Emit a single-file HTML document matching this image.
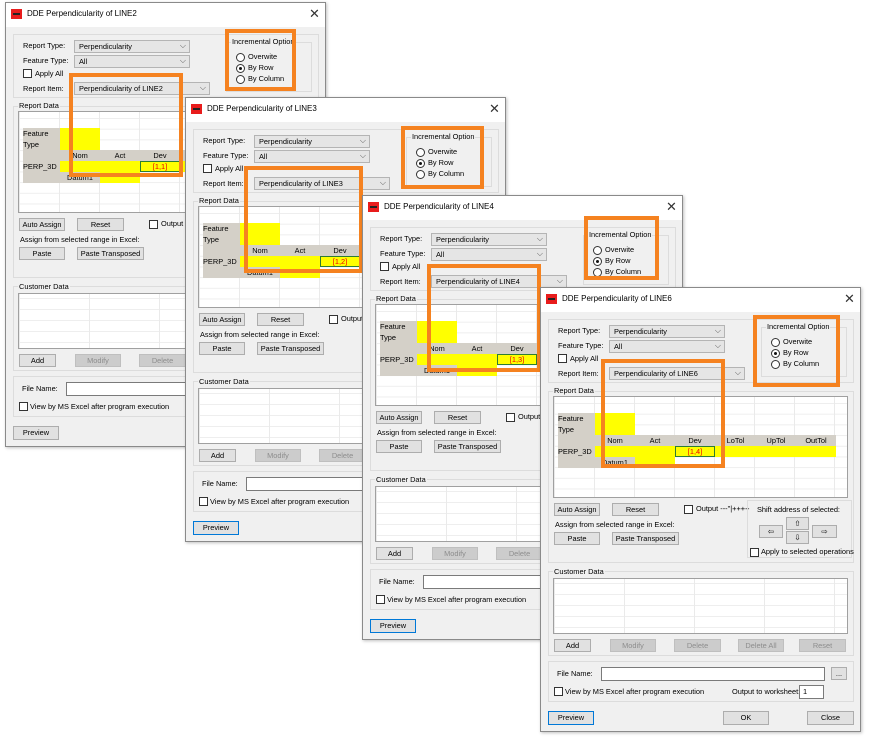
<!DOCTYPE html>
<html><head><meta charset="utf-8"><style>
body{margin:0;width:869px;height:738px;background:#fff;position:relative;overflow:hidden;font-family:"Liberation Sans",sans-serif;font-size:7.4px;color:#000}
.w{position:absolute;width:321px;height:445px;background:#f0f0f0;border:1px solid #8a8a8a;box-sizing:border-box;box-shadow:1px 1px 3px rgba(0,0,0,.25)}
.w *{position:absolute;box-sizing:border-box;white-space:nowrap}
.tb{left:0;top:0;width:319px;height:24px;background:#fff}
.ic{left:5px;top:6px;width:11px;height:10px;background:#e81c1c}
.ic:after{content:"";position:absolute;left:2px;top:4px;width:7px;height:2px;background:#222}
.tt{left:21px;top:6px;font-size:8px}
.x{left:303px;top:3px;font-size:13px;color:#333}
.g{border:1px solid #dcdcdc}
.l{line-height:10px}
.cb{background:#e5e5e5;border:1px solid #b4b4b4;height:13px;padding-left:4px;line-height:11px}
.cb:after{content:"⌵";position:absolute;right:3px;top:-1px;font-size:8px;color:#555}
.ck{width:9px;height:9px;border:1px solid #333;background:#fff}
.rd{width:9px;height:9px;border:1px solid #333;border-radius:50%;background:#fff}
.rd.on:after{content:"";position:absolute;left:2px;top:2px;width:3px;height:3px;border-radius:50%;background:#111}
.b{background:#e1e1e1;border:1px solid #adadad;height:13px;text-align:center;line-height:11px}
.b.d{background:#ccc;color:#8d8d8d;border-color:#bfbfbf}
.b.p{border:1px solid #0078d7}
.grid{left:12px;top:108px;width:295px;height:102px;background-color:#fff;border:1px solid #a0a0a0;
background-image:linear-gradient(90deg,#eaeaea 1px,transparent 1px),linear-gradient(#eee 1px,transparent 1px);
background-size:40px 100%,100% 10.7px;background-position:40px 0,0 6px}
.grid div{height:11px;line-height:11px}
.gy{background:#d4d0c8}.yl{background:#ffff00}
.cg{left:12px;top:290px;width:295px;height:56px;background-color:#fff;border:1px solid #a0a0a0;
background-image:linear-gradient(90deg,#eaeaea 1px,transparent 1px),linear-gradient(#eee 1px,transparent 1px);
background-size:70px 100%,100% 11px;background-position:70px 0,0 4px}
.in{background:#fff;border:1px solid #7a7a7a;height:14px;padding-left:3px;line-height:12px}
.ob{border:4px solid #f58220}
.c{text-align:center}
</style></head><body>

<!-- Window 1 -->
<div class="w" style="left:5px;top:2px">
<div class="tb"></div><div class="ic"></div><div class="tt">DDE Perpendicularity of LINE2</div><div class="x">✕</div>
<div class="g" style="left:7px;top:31px;width:306px;height:64px"></div>
<div class="l" style="left:17px;top:38px">Report Type:</div><div class="cb" style="left:68px;top:37px;width:116px">Perpendicularity</div>
<div class="l" style="left:17px;top:53px">Feature Type:</div><div class="cb" style="left:68px;top:52px;width:116px">All</div>
<div class="ck" style="left:17px;top:66px"></div><div class="l" style="left:29px;top:66px">Apply All</div>
<div class="l" style="left:17px;top:81px">Report Item:</div><div class="cb" style="left:68px;top:79px;width:136px">Perpendicularity of LINE2</div>
<div class="g" style="left:220px;top:39px;width:86px;height:50px"></div>
<div class="l" style="left:225px;top:34px;background:#f0f0f0;padding:0 1px">Incremental Option</div>
<div class="rd" style="left:230px;top:50px"></div><div class="l" style="left:242px;top:49px">Overwite</div>
<div class="rd on" style="left:230px;top:61px"></div><div class="l" style="left:242px;top:60px">By Row</div>
<div class="rd" style="left:230px;top:72px"></div><div class="l" style="left:242px;top:71px">By Column</div>
<div class="g" style="left:7px;top:103px;width:306px;height:172px"></div>
<div class="l" style="left:12px;top:98px;background:#f0f0f0;padding:0 1px">Report Data</div>
<div class="grid">
<div class="gy" style="left:4px;top:16px;width:37px">Feature</div><div class="yl" style="left:41px;top:16px;width:40px"></div>
<div class="gy" style="left:4px;top:27px;width:37px">Type</div><div class="yl" style="left:41px;top:27px;width:40px"></div>
<div class="gy" style="left:4px;top:38px;width:278px"></div>
<div class="c" style="left:41px;top:38px;width:40px">Nom</div><div class="c" style="left:81px;top:38px;width:40px">Act</div><div class="c" style="left:121px;top:38px;width:40px">Dev</div><div class="c" style="left:161px;top:38px;width:41px">LoTol</div><div class="c" style="left:202px;top:38px;width:40px">UpTol</div><div class="c" style="left:242px;top:38px;width:40px">OutTol</div>
<div class="gy" style="left:4px;top:49px;width:37px">PERP_3D</div><div class="yl" style="left:41px;top:49px;width:241px"></div>
<div class="c" style="left:121px;top:49px;width:40px;border:1px solid #2e7d32;color:#e00;line-height:9px">[1,1]</div>
<div class="gy" style="left:4px;top:60px;width:77px"></div><div class="c" style="left:41px;top:60px;width:40px">Datum1</div><div class="yl" style="left:81px;top:60px;width:40px"></div>
</div>
<div class="b" style="left:13px;top:215px;width:46px">Auto Assign</div><div class="b" style="left:71px;top:215px;width:47px">Reset</div>
<div class="ck" style="left:143px;top:217px"></div><div class="l" style="left:155px;top:216px">Output ---"|++++</div>
<div class="l" style="left:14px;top:232px">Assign from selected range in Excel:</div>
<div class="b" style="left:13px;top:244px;width:46px">Paste</div><div class="b" style="left:71px;top:244px;width:67px">Paste Transposed</div>
<div class="g" style="left:206px;top:212px;width:105px;height:58px"></div>
<div class="l" style="left:216px;top:217px">Shift address of selected:</div>
<div class="b" style="left:245px;top:229px;width:23px">⇧</div><div class="b" style="left:245px;top:243px;width:23px">⇩</div>
<div class="b" style="left:218px;top:237px;width:24px">⇦</div><div class="b" style="left:271px;top:237px;width:25px">⇨</div>
<div class="ck" style="left:209px;top:260px"></div><div class="l" style="left:220px;top:259px">Apply to selected operations</div>
<div class="g" style="left:7px;top:283px;width:306px;height:85px"></div>
<div class="l" style="left:12px;top:279px;background:#f0f0f0;padding:0 1px">Customer Data</div>
<div class="cg"></div>
<div class="b" style="left:13px;top:351px;width:37px">Add</div><div class="b d" style="left:69px;top:351px;width:46px">Modify</div><div class="b d" style="left:133px;top:351px;width:47px">Delete</div><div class="b d" style="left:197px;top:351px;width:46px">Delete All</div><div class="b d" style="left:258px;top:351px;width:47px">Reset</div>
<div class="g" style="left:7px;top:373px;width:306px;height:41px"></div>
<div class="l" style="left:16px;top:381px">File Name:</div><div class="in" style="left:60px;top:379px;width:224px"></div><div class="b" style="left:290px;top:379px;width:16px">...</div>
<div class="ck" style="left:13px;top:399px"></div><div class="l" style="left:24px;top:399px">View by MS Excel after program execution</div>
<div class="l" style="left:191px;top:399px">Output to worksheet:</div><div class="in" style="left:258px;top:397px;width:25px">1</div>
<div class="b" style="left:7px;top:423px;width:46px;height:14px">Preview</div><div class="b" style="left:182px;top:423px;width:46px;height:14px">OK</div><div class="b" style="left:266px;top:423px;width:47px;height:14px">Close</div>
<div class="ob" style="left:219px;top:26px;width:71px;height:62px"></div>
<div class="ob" style="left:63px;top:70px;width:114px;height:104px"></div>
</div>

<!-- Window 2 -->
<div class="w" style="left:185px;top:97px">
<div class="tb"></div><div class="ic"></div><div class="tt">DDE Perpendicularity of LINE3</div><div class="x">✕</div>
<div class="g" style="left:7px;top:31px;width:306px;height:64px"></div>
<div class="l" style="left:17px;top:38px">Report Type:</div><div class="cb" style="left:68px;top:37px;width:116px">Perpendicularity</div>
<div class="l" style="left:17px;top:53px">Feature Type:</div><div class="cb" style="left:68px;top:52px;width:116px">All</div>
<div class="ck" style="left:17px;top:66px"></div><div class="l" style="left:29px;top:66px">Apply All</div>
<div class="l" style="left:17px;top:81px">Report Item:</div><div class="cb" style="left:68px;top:79px;width:136px">Perpendicularity of LINE3</div>
<div class="g" style="left:220px;top:39px;width:86px;height:50px"></div>
<div class="l" style="left:225px;top:34px;background:#f0f0f0;padding:0 1px">Incremental Option</div>
<div class="rd" style="left:230px;top:50px"></div><div class="l" style="left:242px;top:49px">Overwite</div>
<div class="rd on" style="left:230px;top:61px"></div><div class="l" style="left:242px;top:60px">By Row</div>
<div class="rd" style="left:230px;top:72px"></div><div class="l" style="left:242px;top:71px">By Column</div>
<div class="g" style="left:7px;top:103px;width:306px;height:172px"></div>
<div class="l" style="left:12px;top:98px;background:#f0f0f0;padding:0 1px">Report Data</div>
<div class="grid">
<div class="gy" style="left:4px;top:16px;width:37px">Feature</div><div class="yl" style="left:41px;top:16px;width:40px"></div>
<div class="gy" style="left:4px;top:27px;width:37px">Type</div><div class="yl" style="left:41px;top:27px;width:40px"></div>
<div class="gy" style="left:4px;top:38px;width:278px"></div>
<div class="c" style="left:41px;top:38px;width:40px">Nom</div><div class="c" style="left:81px;top:38px;width:40px">Act</div><div class="c" style="left:121px;top:38px;width:40px">Dev</div><div class="c" style="left:161px;top:38px;width:41px">LoTol</div><div class="c" style="left:202px;top:38px;width:40px">UpTol</div><div class="c" style="left:242px;top:38px;width:40px">OutTol</div>
<div class="gy" style="left:4px;top:49px;width:37px">PERP_3D</div><div class="yl" style="left:41px;top:49px;width:241px"></div>
<div class="c" style="left:121px;top:49px;width:40px;border:1px solid #2e7d32;color:#e00;line-height:9px">[1,2]</div>
<div class="gy" style="left:4px;top:60px;width:77px"></div><div class="c" style="left:41px;top:60px;width:40px">Datum1</div><div class="yl" style="left:81px;top:60px;width:40px"></div>
</div>
<div class="b" style="left:13px;top:215px;width:46px">Auto Assign</div><div class="b" style="left:71px;top:215px;width:47px">Reset</div>
<div class="ck" style="left:143px;top:217px"></div><div class="l" style="left:155px;top:216px">Output ---"|++++</div>
<div class="l" style="left:14px;top:232px">Assign from selected range in Excel:</div>
<div class="b" style="left:13px;top:244px;width:46px">Paste</div><div class="b" style="left:71px;top:244px;width:67px">Paste Transposed</div>
<div class="g" style="left:206px;top:212px;width:105px;height:58px"></div>
<div class="l" style="left:216px;top:217px">Shift address of selected:</div>
<div class="b" style="left:245px;top:229px;width:23px">⇧</div><div class="b" style="left:245px;top:243px;width:23px">⇩</div>
<div class="b" style="left:218px;top:237px;width:24px">⇦</div><div class="b" style="left:271px;top:237px;width:25px">⇨</div>
<div class="ck" style="left:209px;top:260px"></div><div class="l" style="left:220px;top:259px">Apply to selected operations</div>
<div class="g" style="left:7px;top:283px;width:306px;height:85px"></div>
<div class="l" style="left:12px;top:279px;background:#f0f0f0;padding:0 1px">Customer Data</div>
<div class="cg"></div>
<div class="b" style="left:13px;top:351px;width:37px">Add</div><div class="b d" style="left:69px;top:351px;width:46px">Modify</div><div class="b d" style="left:133px;top:351px;width:47px">Delete</div><div class="b d" style="left:197px;top:351px;width:46px">Delete All</div><div class="b d" style="left:258px;top:351px;width:47px">Reset</div>
<div class="g" style="left:7px;top:373px;width:306px;height:41px"></div>
<div class="l" style="left:16px;top:381px">File Name:</div><div class="in" style="left:60px;top:379px;width:224px"></div><div class="b" style="left:290px;top:379px;width:16px">...</div>
<div class="ck" style="left:13px;top:399px"></div><div class="l" style="left:24px;top:399px">View by MS Excel after program execution</div>
<div class="l" style="left:191px;top:399px">Output to worksheet:</div><div class="in" style="left:258px;top:397px;width:25px">1</div>
<div class="b p" style="left:7px;top:423px;width:46px;height:14px">Preview</div><div class="b" style="left:182px;top:423px;width:46px;height:14px">OK</div><div class="b" style="left:266px;top:423px;width:47px;height:14px">Close</div>
<div class="ob" style="left:215px;top:28px;width:83px;height:63px"></div>
<div class="ob" style="left:58px;top:68px;width:119px;height:107px"></div>
</div>

<!-- Window 3 -->
<div class="w" style="left:362px;top:195px">
<div class="tb"></div><div class="ic"></div><div class="tt">DDE Perpendicularity of LINE4</div><div class="x">✕</div>
<div class="g" style="left:7px;top:31px;width:306px;height:64px"></div>
<div class="l" style="left:17px;top:38px">Report Type:</div><div class="cb" style="left:68px;top:37px;width:116px">Perpendicularity</div>
<div class="l" style="left:17px;top:53px">Feature Type:</div><div class="cb" style="left:68px;top:52px;width:116px">All</div>
<div class="ck" style="left:17px;top:66px"></div><div class="l" style="left:29px;top:66px">Apply All</div>
<div class="l" style="left:17px;top:81px">Report Item:</div><div class="cb" style="left:68px;top:79px;width:136px">Perpendicularity of LINE4</div>
<div class="g" style="left:220px;top:39px;width:86px;height:50px"></div>
<div class="l" style="left:225px;top:34px;background:#f0f0f0;padding:0 1px">Incremental Option</div>
<div class="rd" style="left:230px;top:50px"></div><div class="l" style="left:242px;top:49px">Overwite</div>
<div class="rd on" style="left:230px;top:61px"></div><div class="l" style="left:242px;top:60px">By Row</div>
<div class="rd" style="left:230px;top:72px"></div><div class="l" style="left:242px;top:71px">By Column</div>
<div class="g" style="left:7px;top:103px;width:306px;height:172px"></div>
<div class="l" style="left:12px;top:98px;background:#f0f0f0;padding:0 1px">Report Data</div>
<div class="grid">
<div class="gy" style="left:4px;top:16px;width:37px">Feature</div><div class="yl" style="left:41px;top:16px;width:40px"></div>
<div class="gy" style="left:4px;top:27px;width:37px">Type</div><div class="yl" style="left:41px;top:27px;width:40px"></div>
<div class="gy" style="left:4px;top:38px;width:278px"></div>
<div class="c" style="left:41px;top:38px;width:40px">Nom</div><div class="c" style="left:81px;top:38px;width:40px">Act</div><div class="c" style="left:121px;top:38px;width:40px">Dev</div><div class="c" style="left:161px;top:38px;width:41px">LoTol</div><div class="c" style="left:202px;top:38px;width:40px">UpTol</div><div class="c" style="left:242px;top:38px;width:40px">OutTol</div>
<div class="gy" style="left:4px;top:49px;width:37px">PERP_3D</div><div class="yl" style="left:41px;top:49px;width:241px"></div>
<div class="c" style="left:121px;top:49px;width:40px;border:1px solid #2e7d32;color:#e00;line-height:9px">[1,3]</div>
<div class="gy" style="left:4px;top:60px;width:77px"></div><div class="c" style="left:41px;top:60px;width:40px">Datum1</div><div class="yl" style="left:81px;top:60px;width:40px"></div>
</div>
<div class="b" style="left:13px;top:215px;width:46px">Auto Assign</div><div class="b" style="left:71px;top:215px;width:47px">Reset</div>
<div class="ck" style="left:143px;top:217px"></div><div class="l" style="left:155px;top:216px">Output ---"|++++</div>
<div class="l" style="left:14px;top:232px">Assign from selected range in Excel:</div>
<div class="b" style="left:13px;top:244px;width:46px">Paste</div><div class="b" style="left:71px;top:244px;width:67px">Paste Transposed</div>
<div class="g" style="left:206px;top:212px;width:105px;height:58px"></div>
<div class="l" style="left:216px;top:217px">Shift address of selected:</div>
<div class="b" style="left:245px;top:229px;width:23px">⇧</div><div class="b" style="left:245px;top:243px;width:23px">⇩</div>
<div class="b" style="left:218px;top:237px;width:24px">⇦</div><div class="b" style="left:271px;top:237px;width:25px">⇨</div>
<div class="ck" style="left:209px;top:260px"></div><div class="l" style="left:220px;top:259px">Apply to selected operations</div>
<div class="g" style="left:7px;top:283px;width:306px;height:85px"></div>
<div class="l" style="left:12px;top:279px;background:#f0f0f0;padding:0 1px">Customer Data</div>
<div class="cg"></div>
<div class="b" style="left:13px;top:351px;width:37px">Add</div><div class="b d" style="left:69px;top:351px;width:46px">Modify</div><div class="b d" style="left:133px;top:351px;width:47px">Delete</div><div class="b d" style="left:197px;top:351px;width:46px">Delete All</div><div class="b d" style="left:258px;top:351px;width:47px">Reset</div>
<div class="g" style="left:7px;top:373px;width:306px;height:41px"></div>
<div class="l" style="left:16px;top:381px">File Name:</div><div class="in" style="left:60px;top:379px;width:224px"></div><div class="b" style="left:290px;top:379px;width:16px">...</div>
<div class="ck" style="left:13px;top:399px"></div><div class="l" style="left:24px;top:399px">View by MS Excel after program execution</div>
<div class="l" style="left:191px;top:399px">Output to worksheet:</div><div class="in" style="left:258px;top:397px;width:25px">1</div>
<div class="b p" style="left:7px;top:423px;width:46px;height:14px">Preview</div><div class="b" style="left:182px;top:423px;width:46px;height:14px">OK</div><div class="b" style="left:266px;top:423px;width:47px;height:14px">Close</div>
<div class="ob" style="left:221px;top:20px;width:75px;height:64px"></div>
<div class="ob" style="left:64px;top:68px;width:114px;height:108px"></div>
</div>

<!-- Window 4 -->
<div class="w" style="left:540px;top:287px">
<div class="tb"></div><div class="ic"></div><div class="tt">DDE Perpendicularity of LINE6</div><div class="x">✕</div>
<div class="g" style="left:7px;top:31px;width:306px;height:64px"></div>
<div class="l" style="left:17px;top:38px">Report Type:</div><div class="cb" style="left:68px;top:37px;width:116px">Perpendicularity</div>
<div class="l" style="left:17px;top:53px">Feature Type:</div><div class="cb" style="left:68px;top:52px;width:116px">All</div>
<div class="ck" style="left:17px;top:66px"></div><div class="l" style="left:29px;top:66px">Apply All</div>
<div class="l" style="left:17px;top:81px">Report Item:</div><div class="cb" style="left:68px;top:79px;width:136px">Perpendicularity of LINE6</div>
<div class="g" style="left:220px;top:39px;width:86px;height:50px"></div>
<div class="l" style="left:225px;top:34px;background:#f0f0f0;padding:0 1px">Incremental Option</div>
<div class="rd" style="left:230px;top:50px"></div><div class="l" style="left:242px;top:49px">Overwite</div>
<div class="rd on" style="left:230px;top:61px"></div><div class="l" style="left:242px;top:60px">By Row</div>
<div class="rd" style="left:230px;top:72px"></div><div class="l" style="left:242px;top:71px">By Column</div>
<div class="g" style="left:7px;top:103px;width:306px;height:172px"></div>
<div class="l" style="left:12px;top:98px;background:#f0f0f0;padding:0 1px">Report Data</div>
<div class="grid">
<div class="gy" style="left:4px;top:16px;width:37px">Feature</div><div class="yl" style="left:41px;top:16px;width:40px"></div>
<div class="gy" style="left:4px;top:27px;width:37px">Type</div><div class="yl" style="left:41px;top:27px;width:40px"></div>
<div class="gy" style="left:4px;top:38px;width:278px"></div>
<div class="c" style="left:41px;top:38px;width:40px">Nom</div><div class="c" style="left:81px;top:38px;width:40px">Act</div><div class="c" style="left:121px;top:38px;width:40px">Dev</div><div class="c" style="left:161px;top:38px;width:41px">LoTol</div><div class="c" style="left:202px;top:38px;width:40px">UpTol</div><div class="c" style="left:242px;top:38px;width:40px">OutTol</div>
<div class="gy" style="left:4px;top:49px;width:37px">PERP_3D</div><div class="yl" style="left:41px;top:49px;width:241px"></div>
<div class="c" style="left:121px;top:49px;width:40px;border:1px solid #2e7d32;color:#e00;line-height:9px">[1,4]</div>
<div class="gy" style="left:4px;top:60px;width:77px"></div><div class="c" style="left:41px;top:60px;width:40px">Datum1</div><div class="yl" style="left:81px;top:60px;width:40px"></div>
</div>
<div class="b" style="left:13px;top:215px;width:46px">Auto Assign</div><div class="b" style="left:71px;top:215px;width:47px">Reset</div>
<div class="ck" style="left:143px;top:217px"></div><div class="l" style="left:155px;top:216px">Output ---"|++++</div>
<div class="l" style="left:14px;top:232px">Assign from selected range in Excel:</div>
<div class="b" style="left:13px;top:244px;width:46px">Paste</div><div class="b" style="left:71px;top:244px;width:67px">Paste Transposed</div>
<div class="g" style="left:206px;top:212px;width:105px;height:58px"></div>
<div class="l" style="left:216px;top:217px">Shift address of selected:</div>
<div class="b" style="left:245px;top:229px;width:23px">⇧</div><div class="b" style="left:245px;top:243px;width:23px">⇩</div>
<div class="b" style="left:218px;top:237px;width:24px">⇦</div><div class="b" style="left:271px;top:237px;width:25px">⇨</div>
<div class="ck" style="left:209px;top:260px"></div><div class="l" style="left:220px;top:259px">Apply to selected operations</div>
<div class="g" style="left:7px;top:283px;width:306px;height:85px"></div>
<div class="l" style="left:12px;top:279px;background:#f0f0f0;padding:0 1px">Customer Data</div>
<div class="cg"></div>
<div class="b" style="left:13px;top:351px;width:37px">Add</div><div class="b d" style="left:69px;top:351px;width:46px">Modify</div><div class="b d" style="left:133px;top:351px;width:47px">Delete</div><div class="b d" style="left:197px;top:351px;width:46px">Delete All</div><div class="b d" style="left:258px;top:351px;width:47px">Reset</div>
<div class="g" style="left:7px;top:373px;width:306px;height:41px"></div>
<div class="l" style="left:16px;top:381px">File Name:</div><div class="in" style="left:60px;top:379px;width:224px"></div><div class="b" style="left:290px;top:379px;width:16px">...</div>
<div class="ck" style="left:13px;top:399px"></div><div class="l" style="left:24px;top:399px">View by MS Excel after program execution</div>
<div class="l" style="left:191px;top:399px">Output to worksheet:</div><div class="in" style="left:258px;top:397px;width:25px">1</div>
<div class="b p" style="left:7px;top:423px;width:46px;height:14px">Preview</div><div class="b" style="left:182px;top:423px;width:46px;height:14px">OK</div><div class="b" style="left:266px;top:423px;width:47px;height:14px">Close</div>
<div class="ob" style="left:212px;top:27px;width:87px;height:72px"></div>
<div class="ob" style="left:60px;top:71px;width:124px;height:109px"></div>
</div>
</body></html>
